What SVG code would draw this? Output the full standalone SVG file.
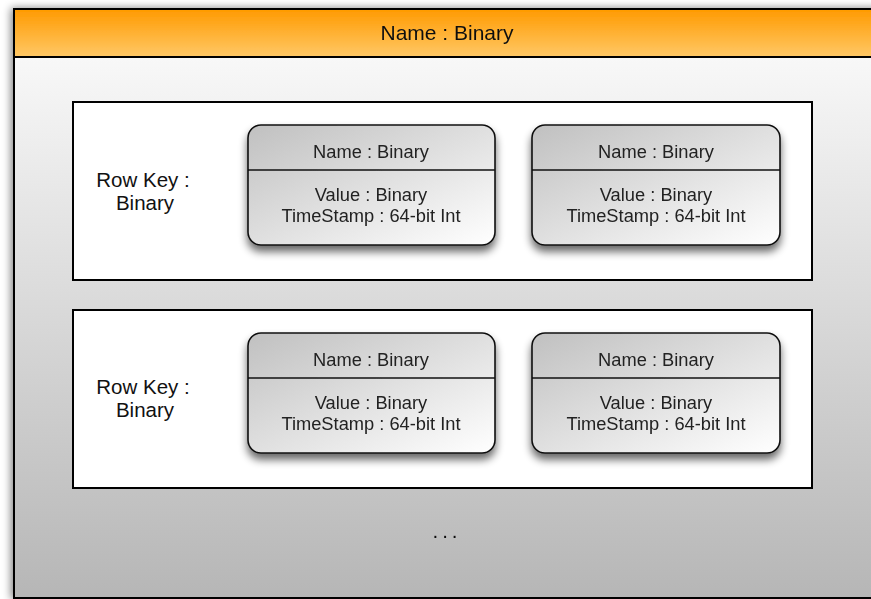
<svg xmlns="http://www.w3.org/2000/svg" width="871" height="599" viewBox="0 0 871 599">
  <defs>
    <linearGradient id="hdr" x1="0" y1="0" x2="0" y2="1">
      <stop offset="0" stop-color="#ff9a00"/>
      <stop offset="1" stop-color="#ffc866"/>
    </linearGradient>
    <linearGradient id="body" x1="0" y1="0" x2="0" y2="1">
      <stop offset="0" stop-color="#f8f8f8"/>
      <stop offset="1" stop-color="#b6b6b6"/>
    </linearGradient>
    <linearGradient id="card" x1="0" y1="0" x2="1" y2="1">
      <stop offset="0" stop-color="#c0c0c0"/>
      <stop offset="1" stop-color="#ffffff"/>
    </linearGradient>
    <filter id="frameShadow" x="-5%" y="-5%" width="110%" height="110%">
      <feGaussianBlur in="SourceAlpha" stdDeviation="4"/>
      <feOffset dx="-2" dy="0" result="b"/>
      <feComponentTransfer><feFuncA type="linear" slope="0.5"/></feComponentTransfer>
      <feMerge><feMergeNode/><feMergeNode in="SourceGraphic"/></feMerge>
    </filter>
    <filter id="cardShadow" x="-10%" y="-10%" width="120%" height="140%">
      <feGaussianBlur in="SourceAlpha" stdDeviation="4"/>
      <feOffset dx="0" dy="6"/>
      <feComponentTransfer><feFuncA type="linear" slope="0.6"/></feComponentTransfer>
      <feMerge><feMergeNode/><feMergeNode in="SourceGraphic"/></feMerge>
    </filter>
    <style>
      text { font-family: "Liberation Sans", Arial, Helvetica, sans-serif; fill: #111; text-anchor: middle; }
      .title { font-size: 21px; }
      .lbl { font-size: 20.5px; }
      .cell { font-size: 18.3px; fill: #222; }
      .row { fill: #ffffff; stroke: #000; stroke-width: 2; }
      .cardBox { fill: url(#card); stroke: #111; stroke-width: 1.6; }
      .div { stroke: #111; stroke-width: 1.4; }
    </style>
  </defs>

  <rect width="871" height="599" fill="#ffffff"/>

  <!-- column family frame -->
  <g id="family" filter="url(#frameShadow)">
    <rect x="14" y="57" width="870" height="541" fill="url(#body)" stroke="#000" stroke-width="2"/>
    <rect x="14" y="9" width="870" height="48" fill="url(#hdr)" stroke="#000" stroke-width="2"/>
    <text class="title" x="447" y="40">Name : Binary</text>
    <text class="lbl" x="447" y="538" letter-spacing="4">...</text>
  </g>

  <!-- row 1 -->
  <g id="row1">
    <rect class="row" x="73" y="102" width="739" height="178"/>
    <text class="lbl" x="143" y="187">Row Key :</text>
    <text class="lbl" x="145" y="210">Binary</text>
  </g>
  <g id="row1-col1" filter="url(#cardShadow)">
    <rect class="cardBox" x="248" y="125" width="247" height="120" rx="13"/>
    <line class="div" x1="248" y1="170" x2="495" y2="170"/>
    <text class="cell" x="371" y="158">Name : Binary</text>
    <text class="cell" x="371" y="201">Value : Binary</text>
    <text class="cell" x="371" y="222">TimeStamp : 64-bit Int</text>
  </g>
  <g id="row1-col2" filter="url(#cardShadow)">
    <rect class="cardBox" x="532" y="125" width="248" height="120" rx="13"/>
    <line class="div" x1="532" y1="170" x2="780" y2="170"/>
    <text class="cell" x="656" y="158">Name : Binary</text>
    <text class="cell" x="656" y="201">Value : Binary</text>
    <text class="cell" x="656" y="222">TimeStamp : 64-bit Int</text>
  </g>

  <!-- row 2 -->
  <g id="row2">
    <rect class="row" x="73" y="310" width="739" height="178"/>
    <text class="lbl" x="143" y="394">Row Key :</text>
    <text class="lbl" x="145" y="417">Binary</text>
  </g>
  <g id="row2-col1" filter="url(#cardShadow)">
    <rect class="cardBox" x="248" y="333" width="247" height="120" rx="13"/>
    <line class="div" x1="248" y1="378" x2="495" y2="378"/>
    <text class="cell" x="371" y="366">Name : Binary</text>
    <text class="cell" x="371" y="409">Value : Binary</text>
    <text class="cell" x="371" y="430">TimeStamp : 64-bit Int</text>
  </g>
  <g id="row2-col2" filter="url(#cardShadow)">
    <rect class="cardBox" x="532" y="333" width="248" height="120" rx="13"/>
    <line class="div" x1="532" y1="378" x2="780" y2="378"/>
    <text class="cell" x="656" y="366">Name : Binary</text>
    <text class="cell" x="656" y="409">Value : Binary</text>
    <text class="cell" x="656" y="430">TimeStamp : 64-bit Int</text>
  </g>

  <!-- connectors: none in this diagram -->
  <g id="connectors"/>
</svg>
